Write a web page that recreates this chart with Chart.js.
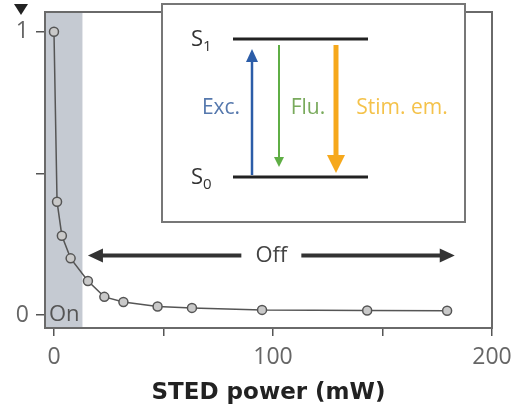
<!DOCTYPE html>
<html>
<head>
<meta charset="utf-8">
<script src="https://cdn.jsdelivr.net/npm/chart.js@4.4.0/dist/chart.umd.min.js"></script>
<style>
  body { margin: 0; background: #fff; }
</style>
</head>
<body>
<canvas id="chart" width="516" height="407"></canvas>
<script>
// data
const power = [0, 1.4, 3.6, 7.6, 15.5, 23, 31.7, 47.3, 63, 95, 143, 179.5];
const signal = [1, 0.40, 0.28, 0.20, 0.12, 0.064, 0.046, 0.03, 0.025, 0.018, 0.016, 0.015];
const xTicks = [0, 50, 100, 150, 200];
const xTickLabels = ['0', '', '100', '', '200'];
const yTicks = [0, 0.5, 1];
const yTickLabels = ['0', '', '1'];
const onEnd = 13;          // grey "On" band ends here (mW)
const offArrow = [15.5, 183, 0.21]; // from, to, level

const FONT = "'Open Sans', sans-serif";

function arrowHead(ctx, x, y, dir, len, half) {
    // dir: 1 = pointing down, -1 = pointing up
    ctx.beginPath();
    ctx.moveTo(x, y);
    ctx.lineTo(x - half, y - dir * len);
    ctx.lineTo(x + half, y - dir * len);
    ctx.closePath();
    ctx.fill();
}

const decor = {
    id: 'decor',
    beforeDatasetsDraw(chart) {
        const ctx = chart.ctx, a = chart.chartArea, xs = chart.scales.x;
        ctx.save();
        ctx.fillStyle = '#c5cad2';
        ctx.fillRect(a.left, a.top, xs.getPixelForValue(onEnd) - a.left, a.bottom - a.top);
        ctx.restore();
    },
    afterDraw(chart) {
        const ctx = chart.ctx, a = chart.chartArea, xs = chart.scales.x, ys = chart.scales.y;
        ctx.save();

        // frame
        ctx.strokeStyle = '#6a6a6a';
        ctx.lineWidth = 2;
        ctx.strokeRect(a.left, a.top, a.right - a.left, a.bottom - a.top);

        // triangle marker above the y axis
        ctx.fillStyle = '#222';
        ctx.beginPath();
        ctx.moveTo(14, 4); ctx.lineTo(28, 4); ctx.lineTo(21, 15);
        ctx.closePath(); ctx.fill();

        // "On"
        ctx.fillStyle = '#555';
        ctx.font = '22px ' + FONT;
        ctx.textAlign = 'left';
        ctx.textBaseline = 'middle';
        ctx.fillText('On', a.left + 4, ys.getPixelForValue(0));

        // "Off" double arrow
        const oy = ys.getPixelForValue(offArrow[2]);
        const ox1 = xs.getPixelForValue(offArrow[0]);
        const ox2 = xs.getPixelForValue(offArrow[1]);
        const mid = (ox1 + ox2) / 2;
        ctx.strokeStyle = '#333';
        ctx.fillStyle = '#333';
        ctx.lineWidth = 4;
        ctx.beginPath();
        ctx.moveTo(ox1 + 12, oy); ctx.lineTo(mid - 30, oy);
        ctx.moveTo(mid + 30, oy); ctx.lineTo(ox2 - 12, oy);
        ctx.stroke();
        ctx.beginPath();
        ctx.moveTo(ox1, oy); ctx.lineTo(ox1 + 15, oy - 7); ctx.lineTo(ox1 + 15, oy + 7); ctx.closePath(); ctx.fill();
        ctx.beginPath();
        ctx.moveTo(ox2, oy); ctx.lineTo(ox2 - 15, oy - 7); ctx.lineTo(ox2 - 15, oy + 7); ctx.closePath(); ctx.fill();
        ctx.fillStyle = '#444';
        ctx.textAlign = 'center';
        ctx.fillText('Off', mid, oy);

        // inset: Jablonski diagram
        const bx = 162, by = 4, bw = 303, bh = 218;
        ctx.fillStyle = '#fff';
        ctx.fillRect(bx, by, bw, bh);
        ctx.strokeStyle = '#777';
        ctx.lineWidth = 2;
        ctx.strokeRect(bx, by, bw, bh);

        const lx1 = bx + 71, lx2 = bx + 206, s1 = by + 35, s0 = by + 173;
        ctx.strokeStyle = '#222';
        ctx.lineWidth = 3;
        ctx.beginPath();
        ctx.moveTo(lx1, s1); ctx.lineTo(lx2, s1);
        ctx.moveTo(lx1, s0); ctx.lineTo(lx2, s0);
        ctx.stroke();

        ctx.fillStyle = '#333';
        ctx.textAlign = 'left';
        ctx.font = '22px ' + FONT;
        ctx.fillText('S', bx + 29, s1 + 1);
        ctx.fillText('S', bx + 29, s0 + 1);
        ctx.font = '15px ' + FONT;
        ctx.fillText('1', bx + 41, s1 + 8);
        ctx.fillText('0', bx + 41, s0 + 8);

        // excitation (up)
        ctx.strokeStyle = ctx.fillStyle = '#2c5da8';
        ctx.lineWidth = 2.5;
        ctx.beginPath(); ctx.moveTo(bx + 90, s0 - 2); ctx.lineTo(bx + 90, s1 + 22); ctx.stroke();
        arrowHead(ctx, bx + 90, s1 + 10, -1, 13, 6);
        // fluorescence (down)
        ctx.strokeStyle = ctx.fillStyle = '#5fae45';
        ctx.lineWidth = 2;
        ctx.beginPath(); ctx.moveTo(bx + 117, s1 + 6); ctx.lineTo(bx + 117, s0 - 18); ctx.stroke();
        arrowHead(ctx, bx + 117, s0 - 10, 1, 10, 5);
        // stimulated emission (down)
        ctx.strokeStyle = ctx.fillStyle = '#f6a81c';
        ctx.lineWidth = 5;
        ctx.beginPath(); ctx.moveTo(bx + 174, s1 + 6); ctx.lineTo(bx + 174, s0 - 20); ctx.stroke();
        arrowHead(ctx, bx + 174, s0 - 4, 1, 18, 9);

        ctx.font = '21px ' + FONT;
        ctx.textAlign = 'center';
        ctx.fillStyle = '#5578ad';
        ctx.fillText('Exc.', bx + 59, by + 104);
        ctx.fillStyle = '#79aa5c';
        ctx.fillText('Flu.', bx + 146, by + 104);
        ctx.fillStyle = '#f4c24a';
        ctx.fillText('Stim. em.', bx + 240, by + 104);

        ctx.restore();
    }
};

new Chart(document.getElementById('chart'), {
    type: 'scatter',
    data: {
        datasets: [{
            data: power.map((p, i) => ({ x: p, y: signal[i] })),
            showLine: true,
            borderColor: '#555',
            borderWidth: 1.5,
            pointRadius: 4.5,
            pointBackgroundColor: '#c9c9c9',
            pointBorderColor: '#555',
            pointBorderWidth: 1.5
        }]
    },
    options: {
        responsive: false,
        animation: false,
        devicePixelRatio: 1,
        layout: { padding: { top: 12, right: 24, left: 0, bottom: 0 } },
        plugins: { legend: { display: false }, tooltip: { enabled: false } },
        scales: {
            x: {
                type: 'linear',
                min: -4.1,
                max: 200,
                afterBuildTicks: s => { s.ticks = xTicks.map(v => ({ value: v })); },
                afterFit: s => { s.height = 79; s.paddingLeft = 0; s.paddingRight = 0; },
                border: { display: false },
                grid: { drawOnChartArea: false, drawTicks: true, tickLength: 8, color: '#555', lineWidth: 1.5 },
                ticks: {
                    padding: 8,
                    color: '#666',
                    font: { family: FONT, size: 23 },
                    maxRotation: 0,
                    autoSkip: false,
                    callback: (v, i) => xTickLabels[i]
                },
                title: {
                    display: true,
                    text: 'STED power (mW)',
                    color: '#222',
                    font: { family: "'DejaVu Sans', sans-serif", size: 23, weight: 'bold' },
                    padding: { top: 0, bottom: 0 }
                }
            },
            y: {
                type: 'linear',
                min: -0.046,
                max: 1.07,
                afterBuildTicks: s => { s.ticks = yTicks.map(v => ({ value: v })); },
                afterFit: s => { s.width = 45; s.paddingTop = 0; s.paddingBottom = 0; },
                border: { display: false },
                grid: { drawOnChartArea: false, drawTicks: true, tickLength: 9, color: '#555', lineWidth: 1.5 },
                ticks: {
                    padding: 7,
                    color: '#666',
                    font: { family: FONT, size: 23 },
                    autoSkip: false,
                    callback: (v, i) => yTickLabels[i]
                }
            }
        }
    },
    plugins: [decor]
});
</script>
</body>
</html>
